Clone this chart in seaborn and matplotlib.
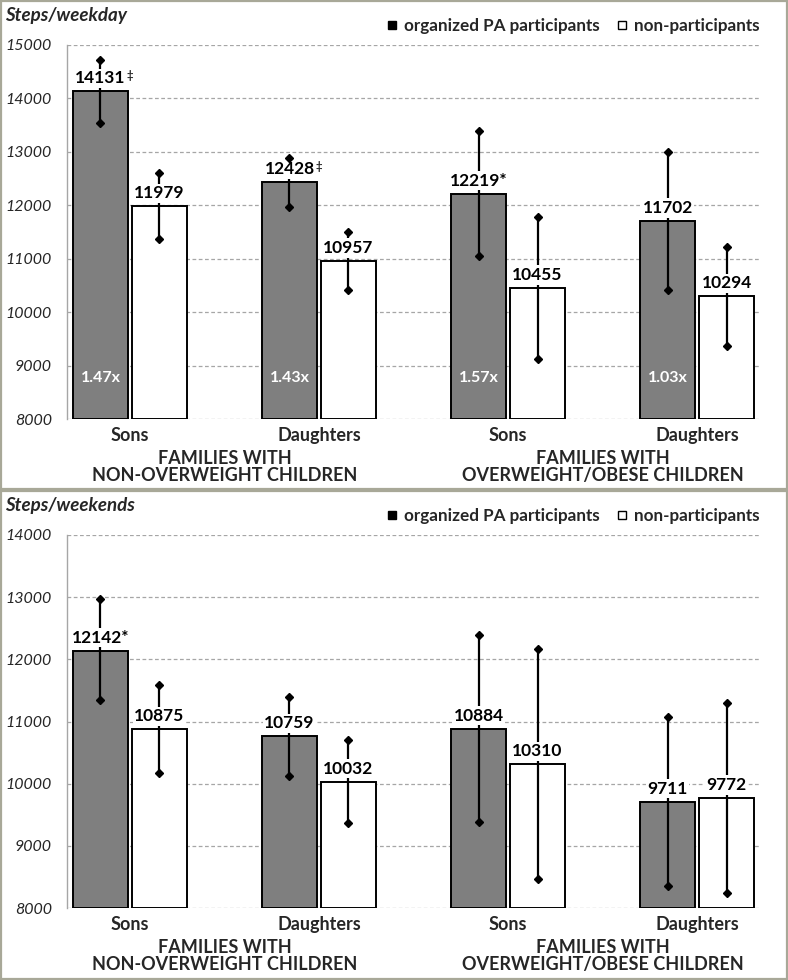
import numpy as np
import pandas as pd
import matplotlib
matplotlib.use('Agg')
import matplotlib.pyplot as plt
import seaborn as sns
from matplotlib.lines import Line2D
from matplotlib.patches import Rectangle

# 1. Data
categories = ['NW Sons', 'NW Daughters', 'OW Sons', 'OW Daughters']
tick_labels = ['Sons', 'Daughters', 'Sons', 'Daughters']
group_labels = ['FAMILIES WITH\nNON-OVERWEIGHT CHILDREN',
                'FAMILIES WITH\nOVERWEIGHT/OBESE CHILDREN']
series = ['organized PA participants', 'non-participants']

# Steps/weekday
wd_org = [14131, 12428, 12219, 11702]
wd_org_lo = [13545, 11970, 11050, 10410]
wd_org_hi = [14720, 12885, 13390, 13000]
wd_non = [11979, 10957, 10455, 10294]
wd_non_lo = [11365, 10415, 9120, 9365]
wd_non_hi = [12605, 11500, 11790, 11225]
wd_org_sup = ['‡', '‡', '', '']
wd_org_star = ['', '', '*', '']
wd_ratio = ['1.47x', '1.43x', '1.57x', '1.03x']

# Steps/weekends
we_org = [12142, 10759, 10884, 9711]
we_org_lo = [11340, 10130, 9390, 8355]
we_org_hi = [12965, 11400, 12385, 11065]
we_non = [10875, 10032, 10310, 9772]
we_non_lo = [10175, 9370, 8470, 8240]
we_non_hi = [11580, 10695, 12160, 11305]
we_org_sup = ['', '', '', '']
we_org_star = ['*', '', '', '']
we_ratio = ['', '', '', '']

# 2. Style
sns.set_theme(style='white')
plt.rcParams['font.family'] = ['Lato', 'DejaVu Sans']

W, H = 788, 980
fig = plt.figure(figsize=(W / 100, H / 100), dpi=100)

palette = {series[0]: '#7f7f7f', series[1]: 'white'}
GRID = '#a6a6a6'


def draw_panel(ax, org, org_lo, org_hi, non, non_lo, non_hi, sups, stars, ratios,
               title, title_y, legend_y, ymax):
    df = pd.DataFrame({
        'category': categories * 2,
        'series': [series[0]] * 4 + [series[1]] * 4,
        'value': org + non,
    })
    sns.barplot(data=df, x='category', y='value', hue='series', order=categories,
                hue_order=series, palette=palette, saturation=1, edgecolor='black',
                linewidth=1.4, width=0.624, gap=0.07, legend=False, ax=ax, zorder=2)
    ymin = 8000
    ax.set_ylim(ymin, ymax)
    ax.set_xlim(-0.333, 3.333)

    lows = [org_lo, non_lo]
    highs = [org_hi, non_hi]
    vals = [org, non]
    for s, container in enumerate(ax.containers[:2]):
        for j, bar in enumerate(container):
            # start bars at the axis floor so the bottom edge shows
            h = bar.get_height()
            bar.set_y(ymin)
            bar.set_height(h - ymin)
            x = bar.get_x() + bar.get_width() / 2
            ax.vlines(x, lows[s][j], highs[s][j], color='black', lw=1.6, zorder=3)
            ax.plot([x, x], [lows[s][j], highs[s][j]], ls='none', marker='D',
                    ms=4, color='black', zorder=7)
            txt = f'{vals[s][j]}' + (stars[j] if s == 0 else '')
            lab = ax.annotate(txt, xy=(x, vals[s][j]), xytext=(0, 13),
                              textcoords='offset pixels', ha='center', va='center',
                              fontsize=12.5, fontweight='bold', color='black', zorder=5,
                              bbox=dict(boxstyle='square,pad=0.1', fc='white', ec='none'))
            if s == 0 and sups[j]:
                ax.annotate(sups[j], xy=(1, 1), xycoords=lab, xytext=(1, 0),
                            textcoords='offset pixels', ha='left', va='top',
                            fontsize=8, fontweight='bold', zorder=6)
            if s == 0 and ratios[j]:
                ax.annotate(ratios[j], xy=(x, 0), xycoords=('data', 'axes fraction'),
                            xytext=(0, 41), textcoords='offset pixels', ha='center',
                            va='center', color='white', fontsize=11.5, fontweight='bold',
                            zorder=5)

    # axes styling
    for side in ['top', 'right', 'bottom']:
        ax.spines[side].set_visible(False)
    ax.spines['left'].set_color(GRID)
    ax.spines['left'].set_linewidth(1.0)
    ax.set_yticks(np.arange(ymin, ymax + 1, 1000))
    ax.set_yticklabels([str(int(v)) for v in np.arange(ymin, ymax + 1, 1000)],
                       fontsize=11.5, style='italic')
    ax.tick_params(axis='y', length=0, pad=11)
    ax.yaxis.grid(True, linestyle=(0, (3, 2)), color=GRID, lw=0.9)
    ax.set_axisbelow(True)
    ax.set_xticks(range(len(categories)))
    ax.set_xticklabels(tick_labels, fontsize=13, fontweight='bold')
    ax.tick_params(axis='x', length=0, pad=6)
    ax.set_xlabel('')
    ax.set_ylabel('')
    for k, g in enumerate(group_labels):
        ax.annotate(g, xy=(0.5 + 2 * k, 0), xycoords=('data', 'axes fraction'),
                    xytext=(0, -48), textcoords='offset pixels', ha='center',
                    va='center', multialignment='center', linespacing=1.0,
                    fontsize=13, fontweight='bold')

    fig.text(5 / W, 1 - title_y / H, title, fontsize=13.5, fontweight='bold',
             style='italic', va='center', ha='left')
    handles = [Line2D([], [], ls='none', marker='s', ms=6, mfc='black', mec='black'),
               Line2D([], [], ls='none', marker='s', ms=6, mfc='white', mec='black', mew=1)]
    ax.legend(handles, series, loc='center right', bbox_to_anchor=(760 / W, 1 - legend_y / H),
              bbox_transform=fig.transFigure, ncol=2, frameon=False,
              prop=dict(weight='bold', size=12.3), handlelength=0.6, handleheight=0.6,
              handletextpad=0.4, columnspacing=1.0, borderaxespad=0, borderpad=0)


ax1 = fig.add_axes([67 / W, 1 - 419 / H, 693 / W, 374 / H])
ax2 = fig.add_axes([67 / W, 1 - 908 / H, 693 / W, 373 / H])

draw_panel(ax1, wd_org, wd_org_lo, wd_org_hi, wd_non, wd_non_lo, wd_non_hi,
           wd_org_sup, wd_org_star, wd_ratio, 'Steps/weekday', 16, 26, 15000)
draw_panel(ax2, we_org, we_org_lo, we_org_hi, we_non, we_non_lo, we_non_hi,
           we_org_sup, we_org_star, we_ratio, 'Steps/weekends', 505, 516, 14000)

# panel frames
frame = '#a8a898'
fig.add_artist(Rectangle((1 / W, 1 - 489 / H), 1 - 2 / W, 488 / H, transform=fig.transFigure,
                         fill=False, ec=frame, lw=1.6))
fig.add_artist(Rectangle((1 / W, 1 / H), 1 - 2 / W, 1 - 492 / H, transform=fig.transFigure,
                         fill=False, ec=frame, lw=1.6))

fig.savefig('out.png', dpi=100)
